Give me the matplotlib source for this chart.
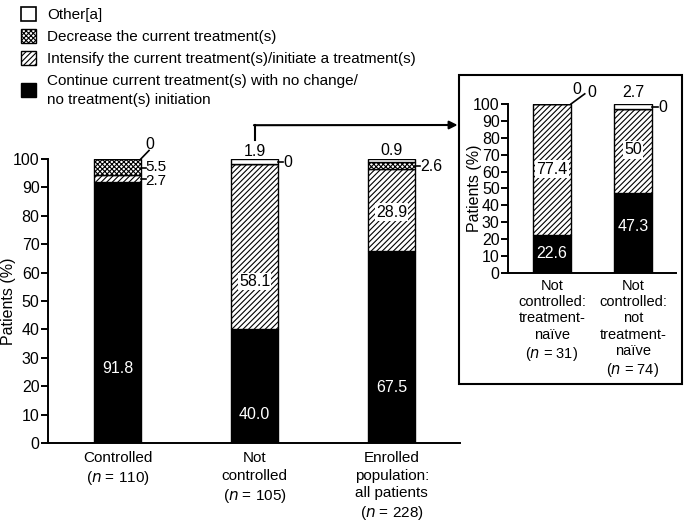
import matplotlib
matplotlib.use("Agg")
import matplotlib.pyplot as plt
from matplotlib.patches import Patch, Rectangle
import numpy as np

plt.rcParams['font.family'] = ['Liberation Sans', 'DejaVu Sans']
plt.rcParams['font.size'] = 11
plt.rcParams['hatch.linewidth'] = 0.8

# main panel data
groups = ['Controlled\n($n$ = 110)', 'Not\ncontrolled\n($n$ = 105)',
          'Enrolled\npopulation:\nall patients\n($n$ = 228)']
cont = [91.8, 40.0, 67.5]
intens = [2.7, 58.1, 28.9]
decr = [5.5, 0.0, 2.6]
other = [0.0, 1.9, 0.9]

# inset data (not controlled subgroups)
sub_groups = ['Not\ncontrolled:\ntreatment-\nnaïve\n($n$ = 31)',
              'Not\ncontrolled:\nnot\ntreatment-\nnaïve\n($n$ = 74)']
sub_cont = [22.6, 47.3]
sub_intens = [77.4, 50.0]
sub_decr = [0.0, 0.0]
sub_other = [0.0, 2.7]

legend_labels = ['Other[a]', 'Decrease the current treatment(s)',
                 'Intensify the current treatment(s)/initiate a treatment(s)',
                 'Continue current treatment(s) with no change/\nno treatment(s) initiation']

DOTS = 'xxxxxxx'
styles = [dict(facecolor='black', hatch=None),
          dict(facecolor='white', hatch='//////'),
          dict(facecolor='white', hatch=DOTS),
          dict(facecolor='white', hatch=None)]
FS = 11.5


def stacked(ax, series, width):
    x = np.arange(len(series[0]))
    bottom = np.zeros(len(x))
    for vals, st in zip(series, styles):
        ax.bar(x, vals, width, bottom=bottom, edgecolor='black', linewidth=1.0, **st)
        bottom += np.array(vals)
    return x


def style_axes(ax, labels, spacing, xsize=11):
    ax.set_ylim(0, 100)
    ax.set_yticks(range(0, 101, 10))
    ax.spines['top'].set_visible(False)
    ax.spines['right'].set_visible(False)
    ax.spines['left'].set_linewidth(1.4)
    ax.spines['bottom'].set_linewidth(1.4)
    ax.tick_params(axis='y', direction='out', length=5, width=1.4, labelsize=FS, pad=1)
    ax.tick_params(axis='x', length=0, labelsize=xsize, pad=6)
    ax.set_xticks(range(len(labels)))
    ax.set_xticklabels(labels, linespacing=spacing, va='top')
    ax.set_ylabel('Patients (%)', fontsize=FS)


fig = plt.figure(figsize=(6.85, 5.22), dpi=100)

# ---- main panel
ax = fig.add_axes([0.070, 0.1513, 0.602, 0.5441])
wmain = 0.34
x = stacked(ax, [cont, intens, decr, other], wmain)
ax.set_xlim(-0.507, 2.5)
style_axes(ax, groups, 1.3)
ax.yaxis.set_label_coords(-0.078, 0.5)

wbox = dict(facecolor='white', edgecolor='none', pad=0.8)
ax.text(0, 26.4, f'{cont[0]}', color='white', ha='center', va='center', fontsize=FS)
ax.text(1, 9.9, f'{cont[1]:.1f}', color='white', ha='center', va='center', fontsize=FS)
ax.text(2, 19.4, f'{cont[2]}', color='white', ha='center', va='center', fontsize=FS)
ax.text(1, 57, f'{intens[1]}', ha='center', va='center', fontsize=FS, bbox=wbox)
ax.text(2, 81.3, f'{intens[2]}', ha='center', va='center', fontsize=FS, bbox=wbox)

e = wmain / 2
# controlled small labels
ax.plot([e, e + 0.06], [100, 103], color='black', lw=1.2, clip_on=False)
ax.text(0.237, 105.2, f'{other[0]:g}', ha='center', va='center', fontsize=FS)
ax.plot([e, e + 0.035], [97, 97], color='black', lw=1.2, clip_on=False)
ax.text(e + 0.035, 97.2, f'{decr[0]}', ha='left', va='center', fontsize=11)
ax.plot([e, e + 0.035], [93, 93], color='black', lw=1.2, clip_on=False)
ax.text(e + 0.035, 92.4, f'{intens[0]}', ha='left', va='center', fontsize=11)
# not controlled
ax.text(1, 102.8, f'{other[1]}', ha='center', va='center', fontsize=FS)
ax.plot([1 + e, 1 + e + 0.035], [99, 99], color='black', lw=1.2, clip_on=False)
ax.text(1 + e + 0.04, 98.6, f'{decr[1]:g}', ha='left', va='center', fontsize=FS)
# enrolled
ax.text(2, 103, f'{other[2]}', ha='center', va='center', fontsize=FS)
ax.plot([2 + e, 2 + e + 0.035], [97.7, 97.7], color='black', lw=1.2, clip_on=False)
ax.text(2 + e + 0.035, 97.3, f'{decr[2]}', ha='left', va='center', fontsize=FS)

# connector arrow to inset
ax.plot([1, 1], [106.8, 111.9], color='black', lw=1.5, clip_on=False)
ax.annotate('', xy=(0.668, 1 - 125 / 522), xycoords='figure fraction',
            xytext=(0.995, 111.9), textcoords='data',
            arrowprops=dict(arrowstyle='-|>', color='black', lw=1.5,
                            mutation_scale=12, shrinkA=0, shrinkB=0))

# ---- inset box
fig.add_artist(Rectangle((0.670, 0.2644), 0.3256, 0.5919, transform=fig.transFigure,
                         facecolor='none', edgecolor='black', linewidth=1.5))

axi = fig.add_axes([0.7416, 0.477, 0.245, 0.3238])
wsub = 0.47
stacked(axi, [sub_cont, sub_intens, sub_decr, sub_other], wsub)
axi.set_xlim(-0.543, 0.53 + 1)
style_axes(axi, sub_groups, 1.22, xsize=10.5)
axi.tick_params(axis='x', pad=4)
axi.yaxis.set_label_coords(-0.155, 0.5)

axi.text(0, 11.8, f'{sub_cont[0]}', color='white', ha='center', va='center', fontsize=FS)
axi.text(1, 27.8, f'{sub_cont[1]}', color='white', ha='center', va='center', fontsize=FS)
axi.text(0, 61.5, f'{sub_intens[0]}', ha='center', va='center', fontsize=FS, bbox=wbox)
axi.text(1, 72.8, f'{sub_intens[1]:g}', ha='center', va='center', fontsize=FS, bbox=wbox)

ei = wsub / 2
axi.plot([ei, ei + 0.17], [100, 106], color='black', lw=1.2, clip_on=False)
axi.text(0.31, 108.3, f'{sub_decr[0]:g}', ha='center', va='center', fontsize=FS)
axi.text(0.49, 106.5, f'{sub_other[0]:g}', ha='center', va='center', fontsize=FS)
axi.text(1, 106.5, f'{sub_other[1]}', ha='center', va='center', fontsize=FS)
axi.plot([1 + ei, 1 + ei + 0.07], [98.5, 98.5], color='black', lw=1.2, clip_on=False)
axi.text(1 + ei + 0.075, 97.8, f'{sub_decr[1]:g}', ha='left', va='center', fontsize=FS)

# ---- legend
handles = [Patch(facecolor='white', edgecolor='black', linewidth=1.2),
           Patch(facecolor='white', edgecolor='black', hatch=DOTS, linewidth=1.0),
           Patch(facecolor='white', edgecolor='black', hatch='//////', linewidth=1.0),
           Patch(facecolor='black', edgecolor='black')]
leg = fig.legend(handles, legend_labels, loc='upper left', bbox_to_anchor=(0.018, 1.003),
                 frameon=False, handlelength=1.0, handleheight=1.0, handletextpad=0.75,
                 labelspacing=0.47, fontsize=11, borderaxespad=0.15)
for t in leg.get_texts():
    t.set_linespacing(1.45)

fig.savefig('out.png', dpi=100)
